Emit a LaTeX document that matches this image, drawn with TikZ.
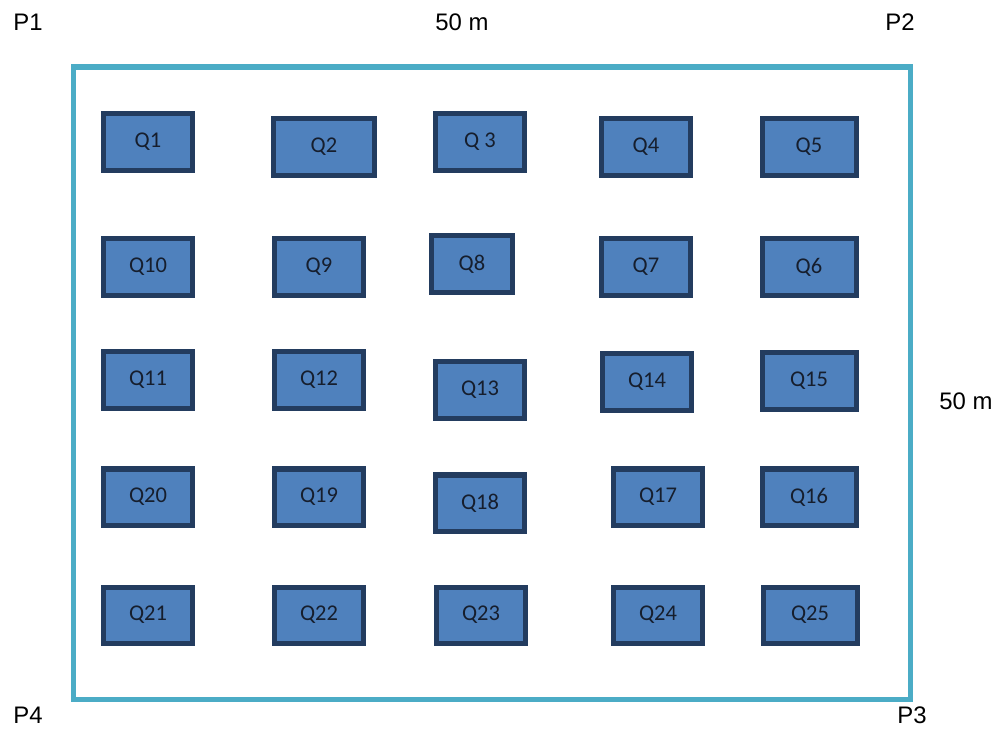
\documentclass[tikz,border=0pt]{standalone}
\usepackage{fontspec}
\setmainfont{Liberation Sans}
\newfontfamily\quadfont{Carlito}
\usetikzlibrary{positioning}
\definecolor{PlotTeal}{RGB}{75,172,198}
\definecolor{QuadFill}{RGB}{79,129,189}
\definecolor{QuadEdge}{RGB}{35,60,95}
\definecolor{QuadText}{RGB}{22,30,45}
\tikzset{
  plot/edge/.style={draw=PlotTeal, line width=0.125cm},
  plot/quad/.style={
    draw=QuadEdge,
    line width=0.125cm,
    fill=QuadFill,
    text=QuadText,
    minimum width=2.2cm,
    minimum height=1.4cm,
    inner sep=0pt,
    font=\quadfont\fontsize{16}{18}\selectfont
  },
  plot/wide/.style={plot/quad, minimum width=2.35cm},
  plot/label/.style={font=\fontsize{17}{19}\selectfont, text=black}
}
\begin{document}
\begin{tikzpicture}[x=0.025cm,y=-0.025cm]
  \useasboundingbox (0,0) rectangle (1004,729);
  % plot boundary
  \draw[plot/edge] (73,67) rectangle (910,699);
  \node[plot/label] (p1) at (28,22) {P1};
  \node[plot/label] (p2) at (900,22) {P2};
  \node[plot/label] (p3) at (912,715) {P3};
  \node[plot/label] (p4) at (28,715) {P4};
  \node[plot/label] (top) at (462,22) {50 m};
  \node[plot/label] (side) at (966,401) {50 m};
  % row 1
  \node[plot/quad] (q1) at (148,142) {Q1};
  \node[plot/wide,minimum width=2.5cm] (q2) at (324,147) {Q2};
  \node[plot/quad] (q3) at (480,142) {Q 3};
  \node[plot/quad] (q4) at (646,147) {Q4};
  \node[plot/wide] (q5) at (809,147) {Q5};
  % row 2
  \node[plot/quad] (q10) at (148,267) {Q10};
  \node[plot/quad] (q9) at (319,267) {Q9};
  \node[plot/quad,minimum width=2cm] (q8) at (472,264) {Q8};
  \node[plot/quad] (q7) at (646,267) {Q7};
  \node[plot/wide] (q6) at (809,267) {Q6};
  % row 3
  \node[plot/quad] (q11) at (148,380) {Q11};
  \node[plot/quad] (q12) at (319,380) {Q12};
  \node[plot/quad] (q13) at (480,390) {Q13};
  \node[plot/quad] (q14) at (647,382) {Q14};
  \node[plot/wide] (q15) at (809,381) {Q15};
  % row 4
  \node[plot/quad] (q20) at (148,497) {Q20};
  \node[plot/quad] (q19) at (319,497) {Q19};
  \node[plot/quad] (q18) at (480,503) {Q18};
  \node[plot/quad] (q17) at (658,497) {Q17};
  \node[plot/wide] (q16) at (809,497) {Q16};
  % row 5
  \node[plot/quad] (q21) at (148,615) {Q21};
  \node[plot/quad] (q22) at (319,615) {Q22};
  \node[plot/quad] (q23) at (481,615) {Q23};
  \node[plot/quad] (q24) at (658,615) {Q24};
  \node[plot/wide] (q25) at (810,615) {Q25};
\end{tikzpicture}
\end{document}
